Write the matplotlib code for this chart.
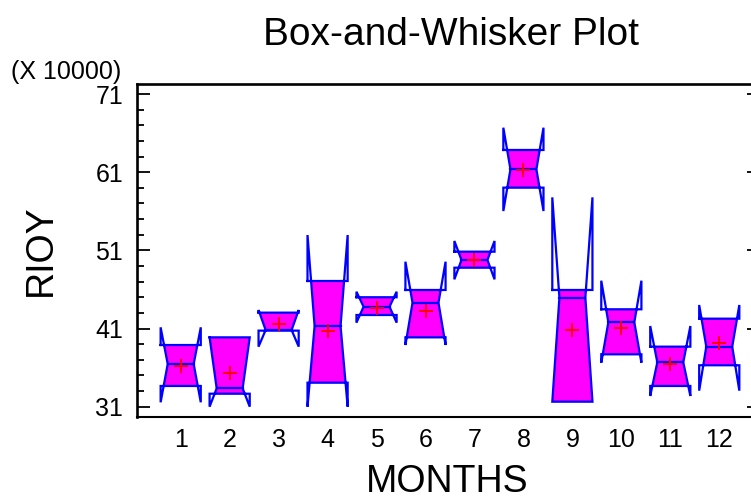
import matplotlib
matplotlib.use("Agg")
import matplotlib.pyplot as plt
import numpy as np
from matplotlib.ticker import FixedLocator

# Data (units of 10000)
months = [1, 2, 3, 4, 5, 6, 7, 8, 9, 10, 11, 12]
notch_hi = [41.15, 39.87, 43.37, 52.96, 45.71, 49.55, 52.20, 66.69, 57.78, 47.12, 41.32, 44.01]
q3 = [38.89, 39.87, 43.03, 47.08, 45.00, 45.93, 50.83, 63.84, 45.93, 43.46, 38.68, 42.26]
median = [36.46, 33.35, 40.81, 41.32, 43.79, 44.30, 49.77, 61.37, 44.95, 41.80, 36.68, 38.68]
q1 = [33.65, 32.66, 40.73, 34.07, 42.73, 39.87, 48.78, 59.02, 31.64, 37.70, 33.65, 36.30]
notch_lo = [31.56, 31.00, 38.68, 31.00, 41.75, 38.89, 47.29, 56.03, 31.64, 36.63, 32.37, 33.05]
means = [36.20, 35.27, 41.54, 40.73, 43.58, 43.28, 49.77, 61.28, 40.81, 41.03, 36.42, 39.19]
xticklabels = [str(m) for m in months]
yticks_major = [31, 41, 51, 61, 71]

plt.rcParams['font.family'] = ['Liberation Sans', 'DejaVu Sans']

W, H = 751, 501
fig = plt.figure(figsize=(W / 100, H / 100), dpi=100)
left_px, right_px, top_px, bot_px = 137, 759, 84, 416.7
ax = fig.add_axes([left_px / W, (H - bot_px) / H, (right_px - left_px) / W, (bot_px - top_px) / H])

HW = 0.41   # half box width
WW = 0.265  # half waist width
BLUE = '#0000FF'
MAG = '#FF00FF'


def half_width(y, med, nh, nl):
    if y >= med:
        if nh > med:
            t = min((y - med) / (nh - med), 1.0)
            return WW + (HW - WW) * t
        return HW
    else:
        if nl < med:
            t = min((med - y) / (med - nl), 1.0)
            return WW + (HW - WW) * t
        return HW


for c, nh, u, m, l, nl, mn in zip(months, notch_hi, q3, median, q1, notch_lo, means):
    ys = [u]
    if m < nh < u:
        ys.append(nh)
    ys.append(m)
    if l < nl < m:
        ys.append(nl)
    ys.append(l)
    left_side = [(c - half_width(y, m, nh, nl), y) for y in ys]
    right_side = [(c + half_width(y, m, nh, nl), y) for y in ys[::-1]]
    poly = left_side + right_side
    px, py = zip(*poly)
    ax.fill(px, py, color=MAG, lw=0, zorder=2)
    outline = [(c - HW, u), (c - HW, nh), (c - WW, m), (c - HW, nl), (c - HW, l),
               (c + HW, l), (c + HW, nl), (c + WW, m), (c + HW, nh), (c + HW, u), (c - HW, u)]
    ox, oy = zip(*outline)
    ax.plot(ox, oy, color=BLUE, lw=1.6, zorder=3, solid_joinstyle='miter')
    ax.plot([c - WW, c + WW], [m, m], color=BLUE, lw=1.6, zorder=3)
    ax.plot([c], [mn], marker='+', color='#FF0000', markersize=9.5, mew=1.4, zorder=4, ls='none')

unit = 48.96
c1 = 180.7
ax.set_xlim(1 + (left_px - c1) / unit, 1 + (right_px - c1) / unit)
ax.set_ylim(29.72, 72.28)

ax.set_xticks(months)
ax.set_xticklabels(xticklabels, fontsize=18)
ax.set_yticks(yticks_major)
ax.set_yticklabels([str(v) for v in yticks_major], fontsize=18)
ax.yaxis.set_minor_locator(FixedLocator([v for v in range(31, 72, 2) if v not in yticks_major]))

ax.tick_params(axis='x', length=0, pad=8)
ax.yaxis.set_ticks_position('both')
ax.tick_params(axis='y', which='major', direction='in', length=9, width=1.3, pad=10)
ax.tick_params(axis='y', which='minor', direction='in', length=4.8, width=1.3, left=True, right=False)

for s in ['top', 'left']:
    ax.spines[s].set_linewidth(1.9)
ax.spines['bottom'].set_linewidth(1.5)
ax.spines['right'].set_linewidth(1.5)

fig.text(451 / W, 1 - 45 / H, 'Box-and-Whisker Plot', ha='center', va='baseline', fontsize=28)
fig.text(447.5 / W, 1.5 / H, 'MONTHS', ha='center', va='bottom', fontsize=27)
fig.text(41 / W, 1 - 250 / H, 'RIOY', ha='center', va='center', rotation=90, fontsize=27)
fig.text(66.5 / W, 1 - 72 / H, '(X 10000)', ha='center', va='center', fontsize=18)

fig.savefig('out.png', dpi=100)
